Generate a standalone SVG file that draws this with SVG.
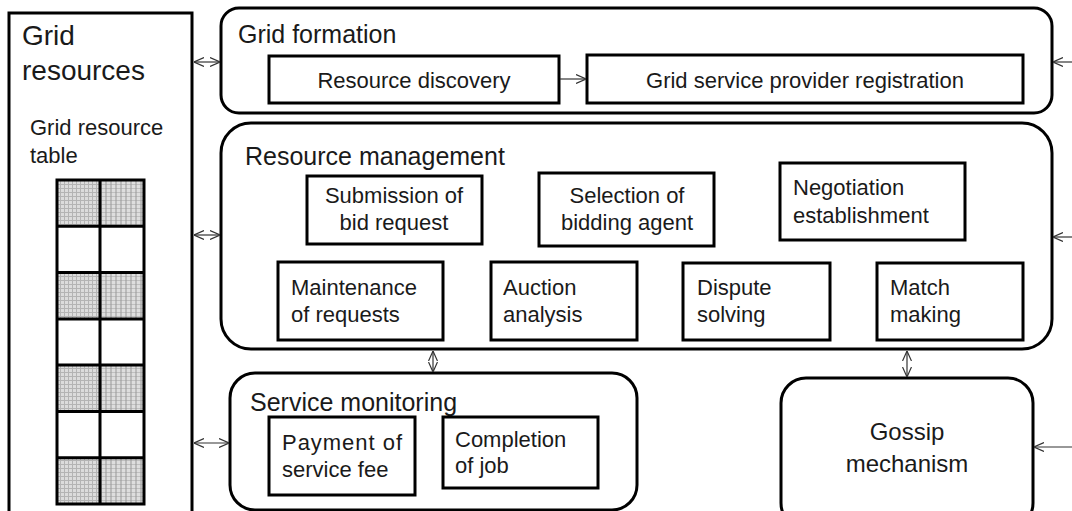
<svg xmlns="http://www.w3.org/2000/svg" width="1072" height="511" viewBox="0 0 1072 511">
<style>
text{font-family:"Liberation Sans",Arial,sans-serif;fill:#1a1a1a}
.t{font-size:22px}
.h{font-size:25px}
.box{fill:#fff;stroke:#000;stroke-width:3}
.grp{fill:#fff;stroke:#000;stroke-width:3}
.con{stroke:#333;stroke-width:1.2;fill:none}
.cell{stroke:#000;stroke-width:3;fill:none}
</style>
<defs>
<pattern id="p1" width="4" height="4" patternUnits="userSpaceOnUse">
<rect width="4" height="4" fill="#dcdcdc"/>
<path d="M0,0.5H4M0.5,0V4" stroke="#b4b4b4" stroke-width="1"/>
</pattern>
<pattern id="p2" width="5" height="4" patternUnits="userSpaceOnUse">
<rect width="5" height="4" fill="#dedede"/>
<path d="M0,0.5H5" stroke="#c0c0c0" stroke-width="1"/>
<path d="M1,0V4" stroke="#999" stroke-width="1"/>
</pattern>
<marker id="ah" viewBox="0 0 10 10" refX="10" refY="5" markerWidth="10" markerHeight="10" markerUnits="userSpaceOnUse" orient="auto-start-reverse">
<path d="M0,0.5L10,5L0,9.5" fill="none" stroke="#333" stroke-width="1.2"/>
</marker>
</defs>

<g id="grid-resources">
<rect class="box" x="9" y="13" width="183" height="520"/>
<text x="22" y="45" style="font-size:28px">Grid</text>
<text x="22" y="80" style="font-size:28px">resources</text>
<text class="t" x="30" y="135">Grid resource</text>
<text class="t" x="30" y="163">table</text>
<g id="grid-resource-table">
<rect x="57" y="180" width="43" height="46.3" fill="url(#p1)"/>
<rect x="100" y="180" width="44" height="46.3" fill="url(#p2)"/>
<rect x="57" y="272.6" width="43" height="46.3" fill="url(#p1)"/>
<rect x="100" y="272.6" width="44" height="46.3" fill="url(#p2)"/>
<rect x="57" y="365.1" width="43" height="46.3" fill="url(#p1)"/>
<rect x="100" y="365.1" width="44" height="46.3" fill="url(#p2)"/>
<rect x="57" y="457.7" width="43" height="46.3" fill="url(#p1)"/>
<rect x="100" y="457.7" width="44" height="46.3" fill="url(#p2)"/>
<rect class="cell" x="57" y="180" width="87" height="324"/>
<path class="cell" d="M100,180V504M57,226.3H144M57,272.6H144M57,318.9H144M57,365.1H144M57,411.4H144M57,457.7H144"/>
</g>
</g>

<g id="grid-formation">
<rect class="grp" x="221" y="8" width="831" height="105" rx="18"/>
<text class="h" x="238" y="43">Grid formation</text>
</g>
<g id="resource-discovery">
<rect class="box" x="269" y="56" width="290" height="47"/>
<text class="t" x="414" y="88" text-anchor="middle">Resource discovery</text>
</g>
<g id="grid-service-provider-registration">
<rect class="box" x="587" y="55" width="436" height="48"/>
<text class="t" x="805" y="88" text-anchor="middle">Grid service provider registration</text>
</g>

<g id="resource-management">
<rect class="grp" x="221" y="123" width="831" height="226" rx="30"/>
<text class="h" x="245" y="165">Resource management</text>
</g>
<g id="submission-of-bid-request">
<rect class="box" x="307" y="176" width="175" height="68"/>
<text class="t" x="394" y="203" text-anchor="middle">Submission of</text>
<text class="t" x="394" y="230" text-anchor="middle">bid request</text>
</g>
<g id="selection-of-bidding-agent">
<rect class="box" x="539" y="173" width="175" height="73"/>
<text class="t" x="627" y="203" text-anchor="middle">Selection of</text>
<text class="t" x="627" y="230" text-anchor="middle">bidding agent</text>
</g>
<g id="negotiation-establishment">
<rect class="box" x="780" y="163" width="185" height="77"/>
<text class="t" x="793" y="195">Negotiation</text>
<text class="t" x="793" y="223">establishment</text>
</g>
<g id="maintenance-of-requests">
<rect class="box" x="278" y="262" width="165" height="78"/>
<text class="t" x="291" y="295">Maintenance</text>
<text class="t" x="291" y="322">of requests</text>
</g>
<g id="auction-analysis">
<rect class="box" x="491" y="262" width="146" height="78"/>
<text class="t" x="503" y="295">Auction</text>
<text class="t" x="503" y="322">analysis</text>
</g>
<g id="dispute-solving">
<rect class="box" x="683" y="263" width="147" height="77"/>
<text class="t" x="697" y="295">Dispute</text>
<text class="t" x="697" y="322">solving</text>
</g>
<g id="match-making">
<rect class="box" x="877" y="263" width="146" height="77"/>
<text class="t" x="890" y="295">Match</text>
<text class="t" x="890" y="322">making</text>
</g>

<g id="service-monitoring">
<rect class="grp" x="230" y="373" width="407" height="137" rx="25"/>
<text class="h" x="250" y="411">Service monitoring</text>
</g>
<g id="payment-of-service-fee">
<rect class="box" x="269" y="417" width="146" height="78"/>
<text class="t" x="282" y="450" textLength="120" lengthAdjust="spacing">Payment of</text>
<text class="t" x="282" y="477">service fee</text>
</g>
<g id="completion-of-job">
<rect class="box" x="443" y="417" width="155" height="71"/>
<text class="t" x="455" y="447">Completion</text>
<text class="t" x="455" y="473">of job</text>
</g>

<g id="gossip-mechanism">
<rect class="grp" x="781" y="378" width="252" height="150" rx="25"/>
<text x="907" y="440" text-anchor="middle" style="font-size:24px">Gossip</text>
<text x="907" y="472" text-anchor="middle" style="font-size:24px">mechanism</text>
</g>

<g id="connectors">
<path class="con" d="M194,62H220" marker-start="url(#ah)" marker-end="url(#ah)"/>
<path class="con" d="M194,235H220" marker-start="url(#ah)" marker-end="url(#ah)"/>
<path class="con" d="M194,443H229" marker-start="url(#ah)" marker-end="url(#ah)"/>
<path class="con" d="M560,79H586" marker-end="url(#ah)"/>
<path class="con" d="M1072,62H1053" marker-end="url(#ah)"/>
<path class="con" d="M1072,237H1053" marker-end="url(#ah)"/>
<path class="con" d="M1072,447H1034" marker-end="url(#ah)"/>
<path class="con" d="M433,351V372" marker-start="url(#ah)" marker-end="url(#ah)"/>
<path class="con" d="M907,351V377" marker-start="url(#ah)" marker-end="url(#ah)"/>
</g>
</svg>
